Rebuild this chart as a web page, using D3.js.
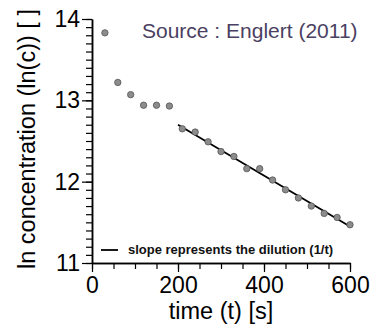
<!DOCTYPE html>
<html>
<head>
<meta charset="utf-8">
<script src="https://cdn.jsdelivr.net/npm/d3@7"></script>
<style>
  body { margin: 0; background: #fff; }
  svg { display: block; font-family: "Liberation Sans", Arial, sans-serif; }
</style>
</head>
<body>
<svg id="chart"></svg>
<script>
const width = 373;
const height = 330;

// data
const times = [30, 60, 90, 120, 150, 180, 210, 240, 270, 300, 330, 360, 390, 420, 450, 480, 510, 540, 570, 600];
const lnConc = [13.83, 13.22, 13.07, 12.94, 12.94, 12.93, 12.65, 12.61, 12.49, 12.37, 12.31, 12.16, 12.16, 12.02, 11.90, 11.80, 11.70, 11.61, 11.56, 11.47];
const fitTimes = [200, 600];
const fitValues = [12.70, 11.45];
const xTicks = [0, 200, 400, 600];
const yTicks = [11, 12, 13, 14];

const margin = { left: 92, right: 23, top: 19, bottom: 67 };

const svg = d3.select("#chart")
  .attr("width", width)
  .attr("height", height);

const x = d3.scaleLinear().domain([0, 600]).range([margin.left, width - margin.right]);
const y = d3.scaleLinear().domain([11, 14]).range([height - margin.bottom, margin.top]);

// fitted line
svg.append("path")
  .datum(fitTimes.map((t, i) => [t, fitValues[i]]))
  .attr("fill", "none")
  .attr("stroke", "#000")
  .attr("stroke-width", 1.8)
  .attr("d", d3.line().x(d => x(d[0])).y(d => y(d[1])));

// points
svg.selectAll("circle.pt")
  .data(times.map((t, i) => [t, lnConc[i]]))
  .enter()
  .append("circle")
  .attr("class", "pt")
  .attr("cx", d => x(d[0]))
  .attr("cy", d => y(d[1]))
  .attr("r", 3.2)
  .attr("fill", "#8c8c8c")
  .attr("stroke", "#555")
  .attr("stroke-width", 0.8);

// x axis: minor ticks every 50, major every 200
const xAxisG = svg.append("g").attr("transform", `translate(0, ${y(11)})`);
xAxisG.call(d3.axisBottom(x).tickValues(d3.range(0, 601, 50)).tickSize(6).tickSizeOuter(0).tickFormat(() => ""));
xAxisG.append("g")
  .call(d3.axisBottom(x).tickValues(xTicks).tickSize(9).tickSizeOuter(0).tickPadding(5).tickFormat(d3.format("d")))
  .selectAll("text")
  .attr("font-size", 23)
  .attr("fill", "#000");

// y axis: minor ticks every 0.1, major every 1
const yAxisG = svg.append("g").attr("transform", `translate(${x(0)}, 0)`);
yAxisG.call(d3.axisLeft(y).tickValues(d3.range(110, 141).map(d => d / 10)).tickSize(6).tickSizeOuter(0).tickFormat(() => ""));
yAxisG.append("g")
  .call(d3.axisLeft(y).tickValues(yTicks).tickSize(10).tickSizeOuter(0).tickPadding(2).tickFormat(d3.format("d")))
  .selectAll("text")
  .attr("font-size", 23)
  .attr("fill", "#000");

svg.selectAll(".tick line")
  .attr("stroke", "#000")
  .attr("stroke-width", 1.2);
svg.selectAll(".domain")
  .attr("stroke", "#000")
  .attr("stroke-width", 1.5);

// source label
svg.append("text")
  .attr("x", 142)
  .attr("y", 38)
  .attr("font-size", 21)
  .attr("fill", "#4b3f62")
  .text("Source : Englert (2011)");

// legend
svg.append("line")
  .attr("x1", 101).attr("x2", 118)
  .attr("y1", 250).attr("y2", 250)
  .attr("stroke", "#000").attr("stroke-width", 1.8);
svg.append("text")
  .attr("x", 128)
  .attr("y", 254)
  .attr("font-size", 13)
  .attr("font-weight", "bold")
  .attr("fill", "#111")
  .text("slope represents the dilution (1/t)");

// axis titles
svg.append("text")
  .attr("x", (x(0) + x(600)) / 2)
  .attr("y", 319)
  .attr("text-anchor", "middle")
  .attr("font-size", 23.5)
  .text("time (t) [s]");

svg.append("text")
  .attr("transform", `translate(35, 139) rotate(-90)`)
  .attr("text-anchor", "middle")
  .attr("font-size", 23.5)
  .text("ln concentration (ln(c)) [ ]");
</script>
</body>
</html>
